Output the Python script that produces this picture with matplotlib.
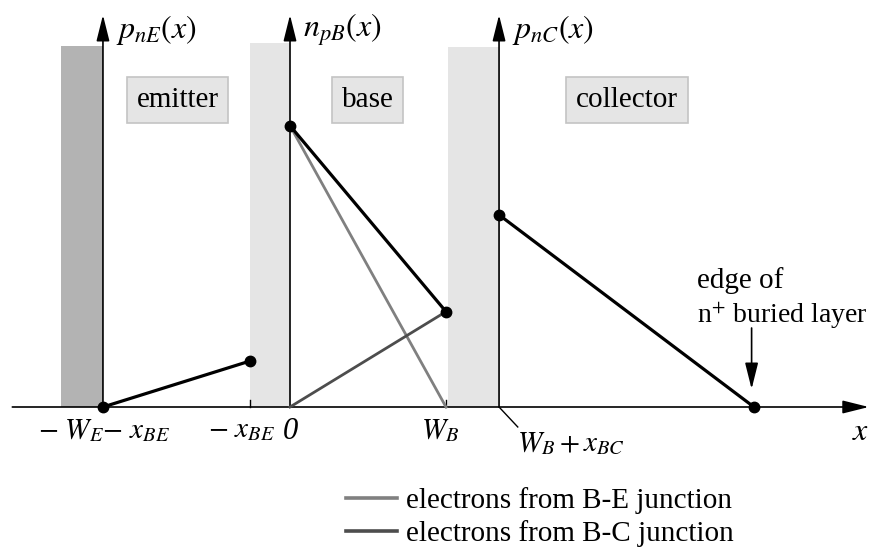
import matplotlib
matplotlib.use("Agg")
import matplotlib.pyplot as plt
from matplotlib.patches import Rectangle

plt.rcParams['font.family'] = ['Liberation Serif', 'DejaVu Serif']
plt.rcParams['mathtext.fontset'] = 'stix'

# ---- data (x in units of W_B, y in units of n_pB(0)) ----
x_emit_edge = -1.199      # -W_E - x_BE
x_be = -0.256             # -x_BE
x_wb = 1.0                # W_B
x_bc = 1.34               # W_B + x_BC
x_buried = 2.974          # edge of n+ buried layer

emitter_x = [x_emit_edge, x_be]
emitter_y = [0.0, 0.1635]
base_total_x = [0.0, x_wb]
base_total_y = [1.0, 0.339]
base_be_x = [0.0, x_wb]
base_be_y = [1.0, 0.0]
base_bc_x = [0.0, x_wb]
base_bc_y = [0.0, 0.339]
coll_x = [x_bc, x_buried]
coll_y = [0.683, 0.0]

tick_pos = [x_emit_edge, x_be, 0.0, x_wb]
tick_labels = [r'$-\ W_{E}{-}\ x_{BE}$', r'$-\ x_{BE}$', '0', r'$W_{B}$']
region_labels = ['emitter', 'base', 'collector']
region_label_x = [-0.721, 0.497, 2.16]
axis_labels = [r'$p_{nE}(x)$', r'$n_{pB}(x)$', r'$p_{nC}(x)$']
axis_x = [x_emit_edge, 0.0, x_bc]
legend_labels = ['electrons from B-E junction', 'electrons from B-C junction']

# depletion / contact regions: (left, right, top, color)
regions = [(-1.468, x_emit_edge, 1.283, '#b3b3b3'),
           (x_be, 0.0, 1.294, '#e5e5e5'),
           (1.013, x_bc, 1.28, '#e5e5e5')]

fig = plt.figure(figsize=(8.73, 5.48), dpi=100)
ax = fig.add_axes([0, 0, 1, 1])
ax.set_xlim(-290 / 156, (873 - 290) / 156)
ax.set_ylim((407 - 548) / 281.3, 407 / 281.3)
ax.axis('off')

for (l, r, t, c) in regions:
    ax.add_patch(Rectangle((l, 0), r - l, t, facecolor=c, edgecolor='none', zorder=1))

arrow_kw = dict(arrowstyle='-|>,head_length=0.8,head_width=0.2', lw=1.2, color='black',
                shrinkA=0, shrinkB=0, mutation_scale=20)
# x axis
ax.annotate('', xy=(3.710, 0), xytext=(-1.78, 0), arrowprops=arrow_kw, zorder=3)
ax.text(3.66, -0.09, r'$x$', fontsize=23, ha='center', va='center')
# y axes
y_top = 1.3935
for xa, lab in zip(axis_x, axis_labels):
    ax.annotate('', xy=(xa, y_top), xytext=(xa, 0), arrowprops=arrow_kw, zorder=3)
    ax.text(xa + 0.085, 1.34, lab, fontsize=23, ha='left', va='center')

# ticks
for tp in [x_be, x_wb]:
    ax.plot([tp, tp], [0, 0.025], color='black', lw=1.0, zorder=3)

tick_label_x = [x_emit_edge + 0.005, -0.31, 0.0, -0.04 + x_wb]
for tx, tl in zip(tick_label_x, tick_labels):
    if tl.startswith('$'):
        ax.text(tx, -0.035, tl, fontsize=21, ha='center', va='top')
    else:
        ax.text(tx, -0.035, tl, fontsize=22, ha='center', va='top', style='italic')
# slanted leader to W_B + x_BC label
ax.plot([x_bc, x_bc + 0.12], [0, -0.071], color='black', lw=1.0)
ax.text(x_bc + 0.46, -0.085, r'$W_{B}+x_{BC}$', fontsize=21, ha='center', va='top')

# region label boxes
for rx, rl in zip(region_label_x, region_labels):
    ax.text(rx, 1.09, rl, fontsize=21, ha='center', va='center',
            bbox=dict(boxstyle='square,pad=0.34', facecolor='#e5e5e5', edgecolor='#c4c4c4', lw=1.2))

# curves
l1, = ax.plot(base_be_x, base_be_y, color='#808080', lw=2.0, zorder=4)
l2, = ax.plot(base_bc_x, base_bc_y, color='#4d4d4d', lw=2.0, zorder=4)
for xs, ys in [(emitter_x, emitter_y), (base_total_x, base_total_y), (coll_x, coll_y)]:
    ax.plot(xs, ys, color='black', lw=2.3, zorder=5, marker='o', ms=7.5, solid_capstyle='round')

# buried layer annotation
ax.annotate('', xy=(x_buried - 0.015, (407 - 389) / 281.3), xytext=(x_buried - 0.015, (407 - 328) / 281.3),
            arrowprops=dict(arrowstyle='-|>,head_length=0.8,head_width=0.2', lw=1.2, color='black',
                            shrinkA=0, shrinkB=0, mutation_scale=20))
ax.text(2.61, (407 - 288) / 281.3, 'edge of', fontsize=21, ha='left', va='baseline')
ax.text(2.61, (407 - 323) / 281.3, r'n$^{+}$ buried layer', fontsize=20, ha='left', va='baseline')

leg = ax.legend([l1, l2], legend_labels, frameon=False, fontsize=21,
                loc='upper left', bbox_to_anchor=(346 / 873, 1 - 487 / 548),
                bbox_transform=fig.transFigure, borderaxespad=0, borderpad=0,
                handlelength=1.75, handletextpad=0.3, labelspacing=0.2)
for h in leg.get_lines():
    h.set_linewidth(2.6)

fig.savefig('out.png', dpi=100)
